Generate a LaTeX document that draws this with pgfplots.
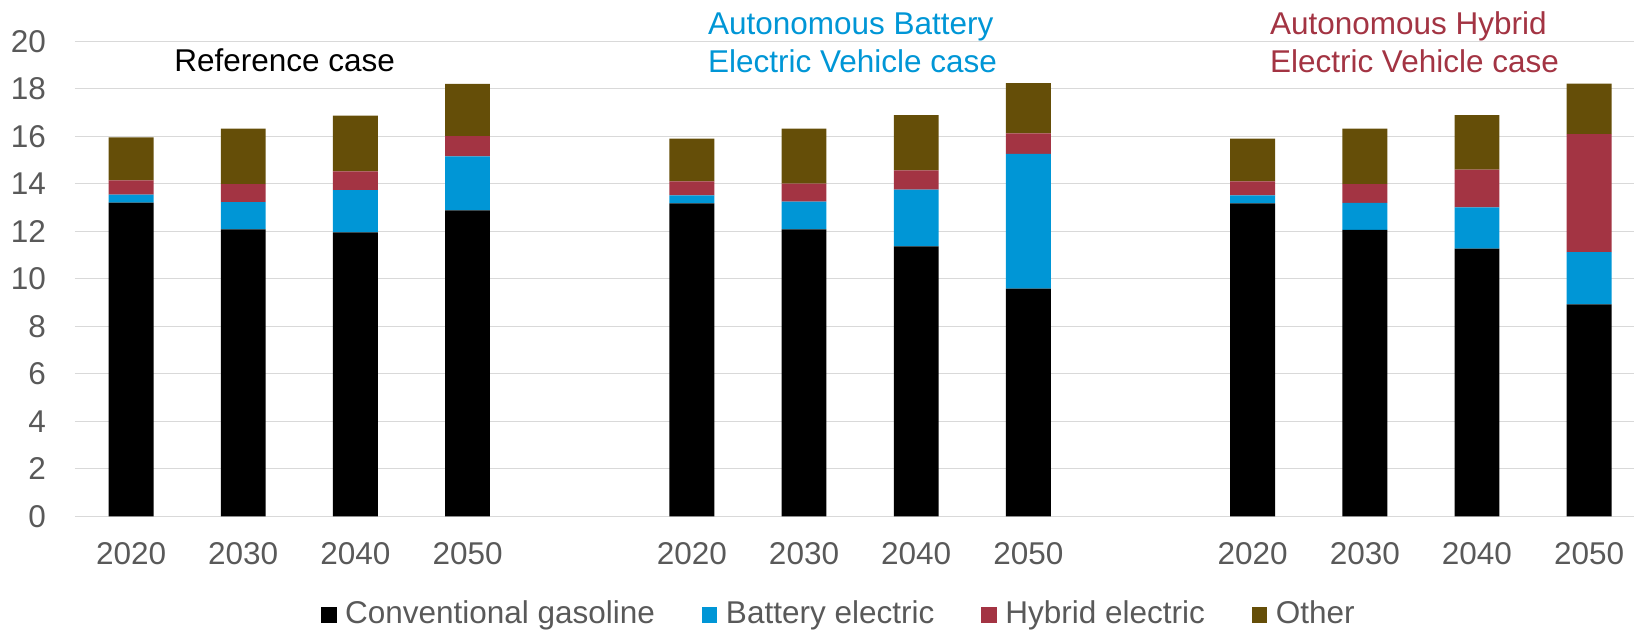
\documentclass[border=0pt]{standalone}
\usepackage{fontspec}
\setmainfont{Liberation Sans}
\usepackage{pgfplots}
\usepackage{pgfplotstable}
\pgfplotsset{compat=1.18}

\definecolor{gasblack}{HTML}{000000}
\definecolor{batblue}{HTML}{0096D6}
\definecolor{hybred}{HTML}{A33443}
\definecolor{othbrown}{HTML}{654E08}
\definecolor{labgray}{HTML}{595959}
\definecolor{gridgray}{HTML}{D9D9D9}

% Vehicle stock by powertrain; three scenarios, one empty slot between groups
\pgfplotstableread{
x  gas   be    he    oth
0  13.21 0.34  0.60  1.81
1  12.08 1.15  0.76  2.34
2  11.96 1.78  0.79  2.34
3  12.88 2.28  0.85  2.20
5  13.18 0.34  0.59  1.80
6  12.08 1.17  0.76  2.32
7  11.37 2.39  0.81  2.32
8  9.59  5.67  0.87  2.11
10 13.18 0.34  0.59  1.80
11 12.06 1.14  0.79  2.34
12 11.27 1.74  1.59  2.30
13 8.92  2.20  4.97  2.13
}\stock

\newcommand{\chartfont}{\fontsize{15.75}{18}\selectfont}

\pgfplotsset{
  sqlegend/.style={legend image code/.code={\path[##1,draw=none] (0pt,0pt) rectangle (7.75pt,8pt);}},
}

\begin{document}
\begin{tikzpicture}
\begin{axis}[
  at={(0,0)}, anchor=south west,
  scale only axis,
  width=779.5pt, height=237.45pt,
  ybar stacked,
  bar width=0.4,
  xmin=-0.5, xmax=13.4,
  ymin=0, ymax=20,
  ytick={0,2,...,20},
  xtick={0,1,2,3,5,6,7,8,10,11,12,13},
  xticklabels={2020,2030,2040,2050,2020,2030,2040,2050,2020,2030,2040,2050},
  ymajorgrids,
  grid style={draw=gridgray, line width=0.6pt},
  axis line style={draw=none},
  major tick length=0pt,
  tick style={draw=none},
  /pgf/number format/assume math mode=true,
  ticklabel style={font=\chartfont, text=labgray, inner sep=0pt},
  yticklabel style={anchor=east, xshift=-14.3pt},
  xticklabel style={anchor=north, yshift=-13pt},
  clip=false,
  legend columns=4,
  legend style={
    at={(0.1578,-0.1771)}, anchor=north west,
    draw=none, fill=none, inner sep=0pt, outer sep=0pt,
    font=\chartfont, text=labgray,
    nodes={inner sep=0pt},
    cells={anchor=base west},
    column sep=4.25pt,
    /tikz/every even column/.append style={column sep=23.5pt},
  },
]
\addplot[fill=gasblack, draw=none, sqlegend] table[x=x, y=gas] {\stock};
\addplot[fill=batblue, draw=none, sqlegend] table[x=x, y=be] {\stock};
\addplot[fill=hybred, draw=none, sqlegend] table[x=x, y=he] {\stock};
\addplot[fill=othbrown, draw=none, sqlegend] table[x=x, y=oth] {\stock};
\legend{Conventional gasoline, Battery electric, Hybrid electric, Other}

\node[anchor=base west, inner sep=0pt, font=\chartfont, text=black]
  at (axis cs:0.383,18.74) {Reference case};
\node[anchor=base west, inner sep=0pt, font=\chartfont, text=batblue]
  at (axis cs:5.141,20.31) {Autonomous Battery};
\node[anchor=base west, inner sep=0pt, font=\chartfont, text=batblue]
  at (axis cs:5.141,18.69) {Electric Vehicle case};
\node[anchor=base west, inner sep=0pt, font=\chartfont, text=hybred]
  at (axis cs:10.151,20.31) {Autonomous Hybrid};
\node[anchor=base west, inner sep=0pt, font=\chartfont, text=hybred]
  at (axis cs:10.151,18.69) {Electric Vehicle case};

\coordinate (bl) at (rel axis cs:0,0);
\coordinate (tr) at (rel axis cs:1,1);
\end{axis}
\pgfresetboundingbox
\path[use as bounding box] ([shift={(-37.5pt,-56.85pt)}]bl) rectangle ([shift={(0pt,20.7pt)}]tr);
\end{tikzpicture}
\end{document}
